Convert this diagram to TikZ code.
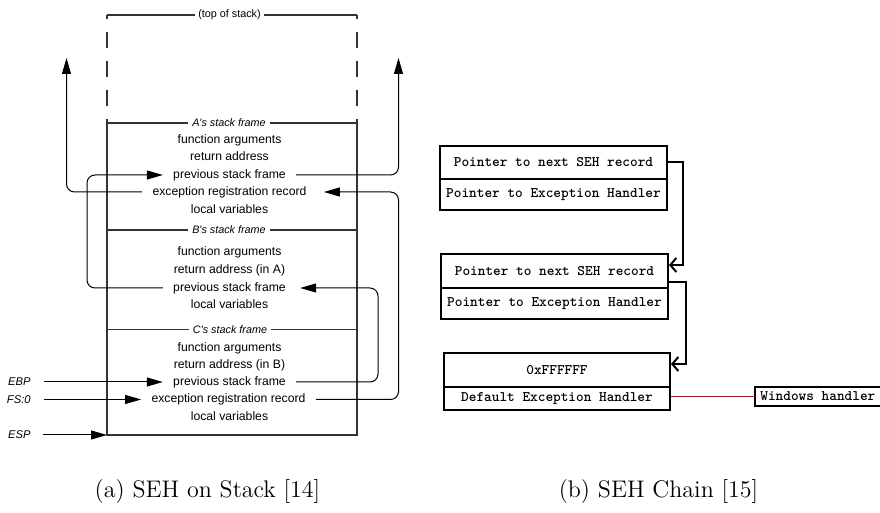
\documentclass[tikz,border=0pt]{standalone}
\usepackage{fontspec}
\newfontfamily\arialf{Liberation Sans}
\usetikzlibrary{arrows.meta,calc}
\begin{document}
\begin{tikzpicture}[x=0.5pt,y=-0.5pt,
  stk/.style={font=\arialf\fontsize{6.1}{7}\selectfont, inner xsep=5pt, inner ysep=0pt, text height=4.4pt, text depth=1.2pt},
  frm/.style={font=\arialf\itshape\fontsize{5.4}{6}\selectfont, fill=white, inner xsep=2pt, inner ysep=1pt},
  topl/.style={font=\arialf\fontsize{5.4}{6}\selectfont, fill=white, inner xsep=1.5pt, inner ysep=1pt},
  reg/.style={font=\arialf\itshape\fontsize{5.6}{6}\selectfont, anchor=east, inner xsep=2pt},
  tri/.style={-{Triangle[length=8pt,width=4.5pt]}},
  wall/.style={line width=0.6pt, draw=black!80},
  conn/.style={line width=0.5pt, rounded corners=4pt},
  mono/.style={font=\ttfamily\bfseries\fontsize{7.3}{8}\selectfont},
  rec/.style={draw, line width=1pt, minimum width=113.5pt, inner sep=0pt, mono},
  link/.style={line width=1pt, rounded corners=0pt, -{Straight Barb[length=3pt,width=7pt]}},
  captxt/.style={anchor=base, font=\fontsize{12}{14}\selectfont}
]
\useasboundingbox (0,0) rectangle (880,513);
\clip (0,0) rectangle (880,513);

% ---------- stack ----------
\draw[wall] (107,15) -- (357,15);
\draw[wall, dash pattern=on 8pt off 6.5pt, dash phase=6pt] (107,15) -- (107,123);
\draw[wall, dash pattern=on 8pt off 6.5pt, dash phase=6pt] (357,15) -- (357,123);
\draw[wall] (107,123) -- (107,435) -- (357,435) -- (357,123);
\draw[wall] (107,123) -- (357,123);
\draw[wall] (107,230) -- (357,230);
\draw[wall] (107,329.5) -- (357,329.5);
\coordinate (bl) at (107,435);

\node[topl] (top) at (229.5,15) {(top of stack)};
\node[frm] (fA) at (229,123) {A's stack frame};
\node[frm] (fB) at (229,230) {B's stack frame};
\node[frm] (fC) at (230,329.5) {C's stack frame};

\node[stk] (faA) at (229.5,140) {function arguments};
\node[stk] (raA) at (229.5,157) {return address};
\node[stk] (pfA) at (229.5,175) {previous stack frame};
\node[stk] (exA) at (229.5,192) {exception registration record};
\node[stk] (lvA) at (229.5,210) {local variables};

\node[stk] (faB) at (229.5,252.5) {function arguments};
\node[stk] (raB) at (229.5,270) {return address (in A)};
\node[stk] (pfB) at (229.5,288) {previous stack frame};
\node[stk] (lvB) at (229.5,305) {local variables};

\node[stk] (faC) at (229.5,348) {function arguments};
\node[stk] (raC) at (229.5,365) {return address (in B)};
\node[stk] (pfC) at (229.5,382) {previous stack frame};
\node[stk] (exC) at (228.5,399.5) {exception registration record};
\node[stk] (lvC) at (229.5,417) {local variables};

\node[reg] (ebp) at (35,382) {EBP};
\node[reg] (fs) at (35,399.5) {FS:0};
\node[reg] (esp) at (35,435) {ESP};

\draw[conn,tri,shorten <=4.5pt] (ebp.east) -- (pfC.west);
\draw[conn,tri,shorten <=4.5pt] (fs.east) -- (exC.west);
\draw[conn,tri,shorten <=4pt] (esp.east) -- (bl);

\coordinate (upL) at (66.5,58);
\coordinate (upR) at (398.5,58);
\coordinate (x3) at (87,0);
\coordinate (x4) at (378,0);
\coordinate (x5) at (398.5,0);
\draw[conn,tri] (exA.west) -| (upL);
\draw[conn,tri] (pfA.east) -| (upR);
\draw[conn,tri] (pfB.west) -| (x3 |- pfA.west) -- (pfA.west);
\draw[conn,tri,shorten >=2pt] (pfC.east) -| (x4 |- pfB.east) -- (pfB.east);
\draw[conn,tri,shorten >=3.5pt] (exC.east) -| (x5 |- exA.east) -- (exA.east);

% ---------- SEH chain ----------
\node[rec, minimum height=16.5pt] (n1) at (553.5,162.5) {Pointer to next SEH record};
\node[rec, minimum height=15.5pt] (h1) at (553.5,194.5) {Pointer to Exception Handler};
\node[rec, minimum height=17pt] (n2) at (554.5,271) {Pointer to next SEH record};
\node[rec, minimum height=15.5pt] (h2) at (554.5,303.5) {Pointer to Exception Handler};
\node[rec, minimum width=113pt, minimum height=17pt] (n3) at (557,370) {0xFFFFFF};
\node[rec, minimum width=113pt, minimum height=11.5pt] (h3) at (557,398.5) {Default Exception Handler};
\node[anchor=west, inner xsep=2.5pt, inner ysep=0pt, minimum height=9.5pt, mono] (win) at (755,396.5) {Windows handler};
\coordinate (wr) at (960,0);
\draw[line width=1pt] (win.south west) rectangle (wr |- win.north);

\draw[link] (n1.east) -- ++(15,0) |- ([yshift=3pt]n2.east);
\draw[link] ([yshift=-5.5pt]n2.east) -- ++(17,0) |- ([yshift=3pt]n3.east);
\draw[red, line width=0.9pt] (h3.east |- win.west) -- (win.west);

% ---------- captions ----------
\node[captxt] (capa) at (207.5,498) {(a) SEH on Stack [14]};
\node[captxt] (capb) at (658.5,498) {(b) SEH Chain [15]};
\end{tikzpicture}
\end{document}
